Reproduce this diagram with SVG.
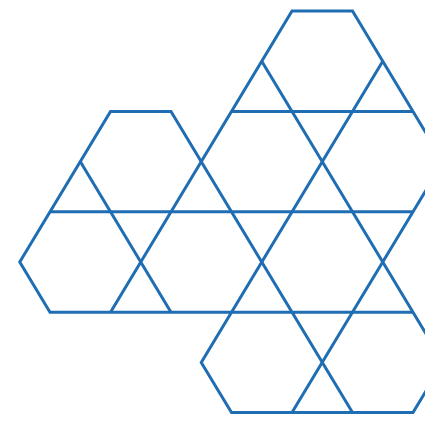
<svg xmlns="http://www.w3.org/2000/svg" width="425" height="447" viewBox="0 0 425 447">
  <style>
    .ln { fill: none; stroke: #1f6db2; stroke-width: 3; stroke-linejoin: miter; stroke-linecap: butt; }
  </style>
  <rect width="425" height="447" fill="#ffffff"/>
  <g id="pattern">
    <path class="ln" d="M110.5,312.2 L292,11 L352.5,11 L443.25,161.6 L292,412.6"/>
    <path class="ln" d="M413,312.2 L50,312.2 L19.75,262 L110.5,111.4 L171,111.4 L352.5,412.6"/>
    <path class="ln" d="M261.75,61.2 L443.25,362.4 L413,412.6 L231.5,412.6 L201.25,362.4 L382.75,61.2"/>
    <path class="ln" d="M231.5,111.4 L413,111.4"/>
    <path class="ln" d="M50,211.8 L413,211.8"/>
    <path class="ln" d="M80.25,161.6 L171,312.2"/>
  </g>
</svg>
